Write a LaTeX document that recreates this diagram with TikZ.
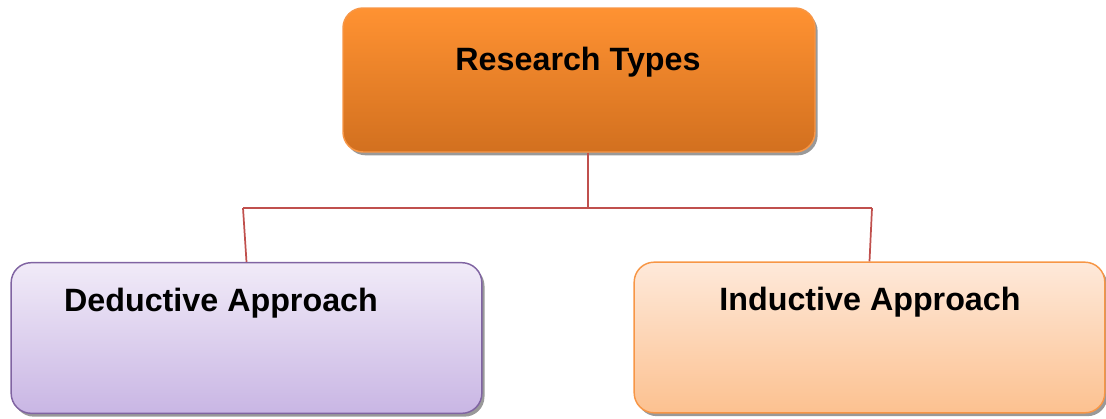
\documentclass[tikz,border=0pt]{standalone}
\usepackage{fontspec}
\setmainfont{Liberation Sans}
\usetikzlibrary{positioning,shadows}

\definecolor{orangeTop}{HTML}{FF9232}
\definecolor{orangeBot}{HTML}{D2701F}
\definecolor{orangeLine}{HTML}{F79646}
\definecolor{lilacTop}{HTML}{F1EBF8}
\definecolor{lilacBot}{HTML}{C9B6E4}
\definecolor{lilacLine}{HTML}{8064A2}
\definecolor{peachTop}{HTML}{FEE9DA}
\definecolor{peachBot}{HTML}{FCC190}
\definecolor{linkRed}{HTML}{C0504D}

\begin{document}
\begin{tikzpicture}[
    x=0.75pt, y=-0.75pt,
    box/.style={
        rounded corners=15pt,
        line width=1.1pt,
        minimum width=353pt,
        minimum height=113pt,
        inner sep=0pt,
        drop shadow={shadow xshift=2pt, shadow yshift=-2.5pt, fill=black!40, opacity=1}
    },
    topbox/.style={box, draw=orangeLine, top color=orangeTop, bottom color=orangeBot,
        minimum width=354pt, minimum height=108pt},
    leftbox/.style={box, draw=lilacLine, top color=lilacTop, bottom color=lilacBot},
    rightbox/.style={box, draw=orangeLine, top color=peachTop, bottom color=peachBot},
    title/.style={anchor=base, inner sep=0pt, font=\fontsize{24.2}{28}\selectfont\bfseries},
    link/.style={draw=linkRed, line width=1.3pt}
]
\useasboundingbox (0,0) rectangle (1106,418);

\node[topbox] (types) at (579,80) {};
\node[leftbox] (deduct) at (246.5,338) {};
\node[rightbox] (induct) at (869.5,337.5) {};

\node[title] (typesText) at (578,70) {Research Types};
\node[title] (deductText) at (221,311) {Deductive Approach};
\node[title] (inductText) at (870,310) {Inductive Approach};

% tree links
\coordinate (mid) at (588,208);
\coordinate (leftEnd) at (243,208);
\coordinate (rightEnd) at (872,208);
\draw[link] (types.south -| mid) -- (mid);
\draw[link] (leftEnd) -- (rightEnd);
\draw[link] (leftEnd) -- (deduct.north);
\draw[link] (rightEnd) -- (induct.north);

\end{tikzpicture}
\end{document}
